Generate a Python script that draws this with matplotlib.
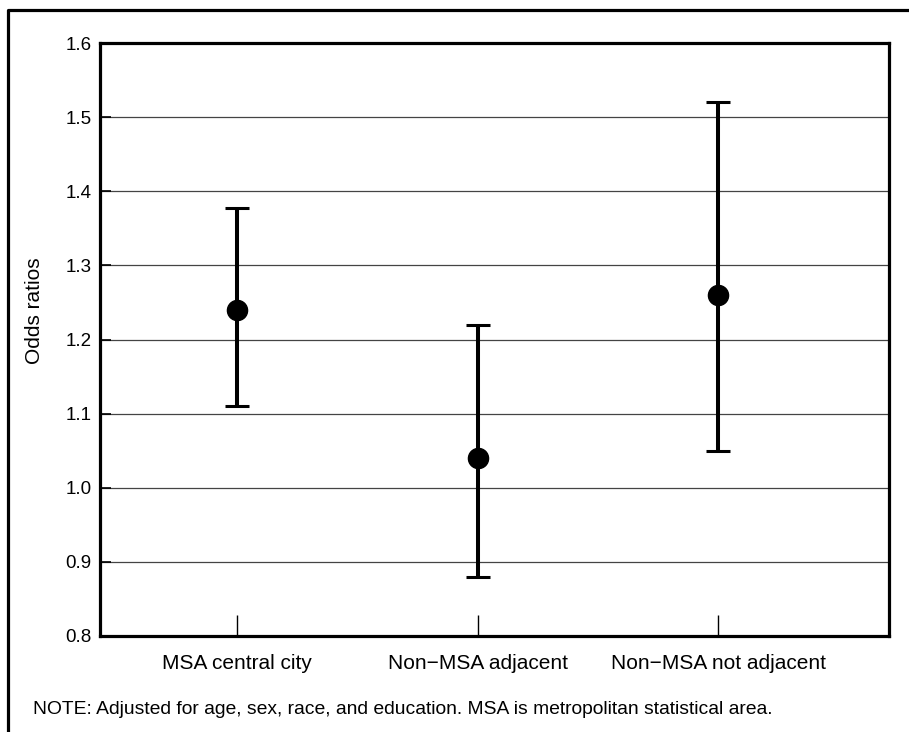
import matplotlib
matplotlib.use("Agg")
import matplotlib.pyplot as plt
from matplotlib.lines import Line2D

# Дані
categories = ["MSA central city", "Non\u2212MSA adjacent", "Non\u2212MSA not adjacent"]
odds = [1.24, 1.04, 1.26]
lower = [1.11, 0.88, 1.05]
upper = [1.377, 1.22, 1.52]
yticks = [0.8, 0.9, 1.0, 1.1, 1.2, 1.3, 1.4, 1.5, 1.6]
note = "NOTE: Adjusted for age, sex, race, and education. MSA is metropolitan statistical area."

plt.rcParams["font.family"] = ["Liberation Sans", "DejaVu Sans"]

W, H = 909, 732
fig = plt.figure(figsize=(W / 100, H / 100), dpi=100)
ax = fig.add_axes([100 / W, 1 - 636 / H, (889 - 100) / W, (636 - 43) / H])

x = list(range(len(categories)))
err_lo = [o - l for o, l in zip(odds, lower)]
err_hi = [u - o for o, u in zip(odds, upper)]
ax.errorbar(x, odds, yerr=[err_lo, err_hi], fmt="o", color="black",
            markersize=14.5, elinewidth=2.9, capsize=8.3, capthick=2.2, zorder=3)

ax.set_ylim(0.8, 1.6)
ax.set_xlim(-0.57, 2.71)
ax.set_yticks(yticks)
ax.set_yticklabels([f"{v:.1f}" for v in yticks], fontsize=13.5)
ax.set_xticks(x)
ax.set_xticklabels(categories, fontsize=15)
ax.tick_params(axis="y", direction="in", length=8, width=1.2, pad=6)
ax.tick_params(axis="x", direction="in", length=15, width=1.0, pad=13)
for v in yticks[1:-1]:
    ax.axhline(v, color="#444444", linewidth=0.9, zorder=1)
for s in ax.spines.values():
    s.set_linewidth(2.3)

fig.text(35 / W, 1 - 311 / H, "Odds ratios", fontsize=15, rotation=90,
         va="center", ha="center")
fig.text(33 / W, 1 - 709 / H, note, fontsize=13.9, va="center", ha="left")

# Рамка зверху і зліва
fig.add_artist(Line2D([8 / W, 8 / W, 1], [0, 1 - 10 / H, 1 - 10 / H],
                      transform=fig.transFigure, color="black", linewidth=2.3))

fig.savefig("out.png", dpi=100)
